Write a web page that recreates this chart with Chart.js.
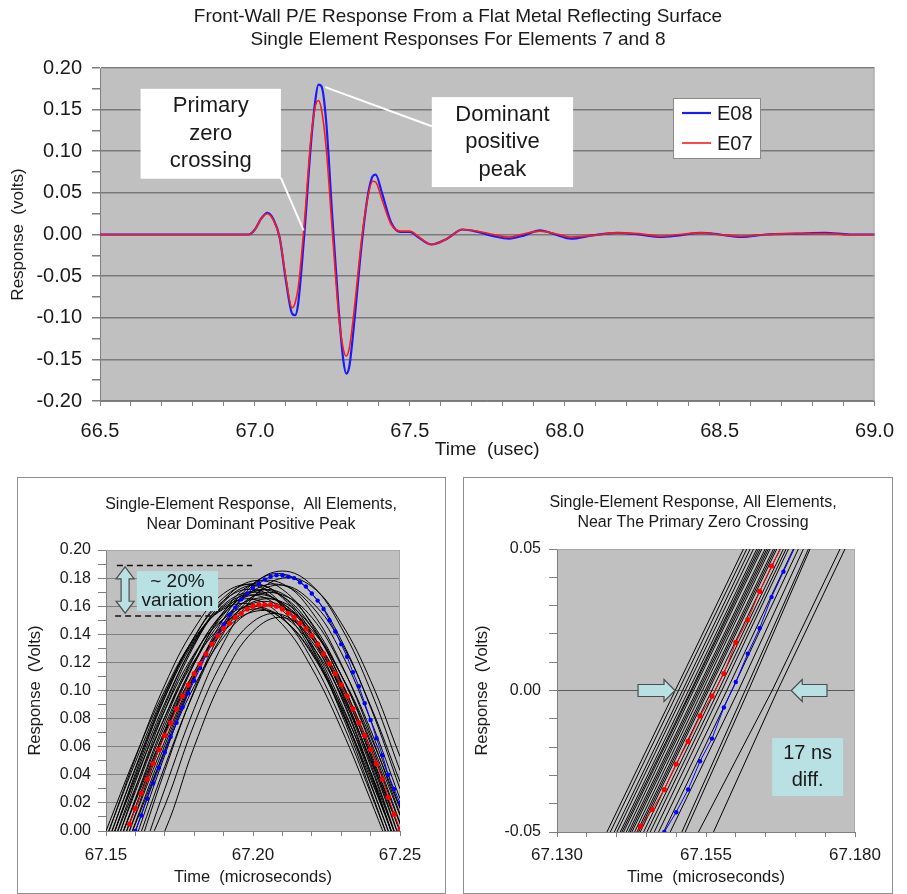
<!DOCTYPE html>
<html>
<head>
<meta charset="utf-8">
<title>Front-Wall P/E Response</title>
<script src="https://cdn.jsdelivr.net/npm/chart.js@4.4.1/dist/chart.umd.min.js"></script>
<style>
  html, body { margin: 0; padding: 0; background: #fff; }
  body { position: relative; width: 907px; height: 894px; overflow: hidden; }
  #chartTop { position: absolute; left: 0; top: 0; }
  .panel { position: absolute; top: 477px; height: 415px; border: 1px solid #8f8f8f; background: #fff; }
  #panelPeak { left: 17px; width: 427px; }
  #panelZero { left: 463px; width: 428px; }
  .panel canvas { position: absolute; left: 0; top: 0; }
</style>
</head>
<body>
<canvas id="chartTop" width="907" height="470"></canvas>
<div class="panel" id="panelPeak"><canvas id="chartPeak" width="427" height="415"></canvas></div>
<div class="panel" id="panelZero"><canvas id="chartZero" width="428" height="415"></canvas></div>
<script>
const FONT = '"Liberation Sans", Arial, sans-serif';
const INK = '#1a1a1a';
const TEAL = '#b9e0e3';

// ---- top: elements 7 and 8, whole window (usec, volts) ----
const topTime = [66.50, 66.60, 66.70, 66.80, 66.90, 66.98, 67.00, 67.02, 67.04, 67.06,
  67.08, 67.10, 67.12, 67.13, 67.14, 67.16, 67.18, 67.195, 67.205, 67.215,
  67.23, 67.25, 67.27, 67.285, 67.295, 67.305, 67.32, 67.345, 67.365, 67.38,
  67.39, 67.41, 67.44, 67.47, 67.50, 67.53, 67.57, 67.62, 67.67, 67.72,
  67.77, 67.82, 67.87, 67.92, 67.97, 68.02, 68.09, 68.17, 68.24, 68.31,
  68.37, 68.44, 68.50, 68.57, 68.65, 68.75, 68.84, 68.92, 69.00];
const e07 = [0.000, 0.000, 0.000, 0.000, 0.000, 0.000, 0.006, 0.019, 0.025, 0.017,
  -0.004, -0.052, -0.088, -0.082, -0.063, 0.016, 0.112, 0.154, 0.161, 0.150,
  0.104, 0.003, -0.095, -0.137, -0.146, -0.136, -0.092, -0.004, 0.046, 0.064,
  0.063, 0.042, 0.012, 0.004, 0.004, -0.003, -0.012, -0.005, 0.006, 0.004,
  0.000, -0.003, 0.001, 0.004, 0.001, -0.003, -0.001, 0.002, 0.001, -0.002,
  0.000, 0.002, 0.000, -0.002, 0.000, 0.001, 0.001, 0.000, 0.000];
const e08 = [0.000, 0.000, 0.000, 0.000, 0.000, 0.000, 0.006, 0.019, 0.026, 0.018,
  -0.004, -0.055, -0.095, -0.097, -0.082, 0.003, 0.105, 0.161, 0.180, 0.178,
  0.136, 0.020, -0.088, -0.150, -0.167, -0.158, -0.108, -0.010, 0.048, 0.070,
  0.072, 0.050, 0.014, 0.003, 0.003, -0.004, -0.012, -0.005, 0.006, 0.003,
  -0.002, -0.005, -0.001, 0.005, 0.000, -0.005, -0.001, 0.002, 0.000, -0.003,
  -0.001, 0.002, 0.000, -0.003, 0.000, 0.001, 0.002, 0.000, 0.000];
const topXLabels = ['66.5', '67.0', '67.5', '68.0', '68.5', '69.0'];
const topYLabels = ['-0.20', '-0.15', '-0.10', '-0.05', '0.00', '0.05', '0.10', '0.15', '0.20'];

// ---- bottom left: all elements near the dominant positive peak ----
const peakTime = [67.15, 67.16, 67.17, 67.18, 67.19, 67.20, 67.21, 67.22, 67.23, 67.24, 67.25];
const peakBlack = [
  [-0.016, 0.037, 0.086, 0.126, 0.151, 0.160, 0.151, 0.126, 0.086, 0.037, -0.016],
  [-0.017, 0.039, 0.091, 0.133, 0.161, 0.170, 0.161, 0.133, 0.091, 0.039, -0.017],
  [-0.005, 0.049, 0.098, 0.136, 0.159, 0.165, 0.152, 0.122, 0.079, 0.027, -0.027],
  [-0.006, 0.052, 0.104, 0.144, 0.169, 0.175, 0.161, 0.130, 0.084, 0.029, -0.029],
  [-0.021, 0.031, 0.081, 0.121, 0.147, 0.158, 0.151, 0.127, 0.089, 0.042, -0.011],
  [-0.028, 0.028, 0.081, 0.125, 0.155, 0.168, 0.162, 0.138, 0.100, 0.050, -0.006],
  [-0.034, 0.023, 0.078, 0.124, 0.156, 0.171, 0.167, 0.145, 0.107, 0.056, 0.000],
  [-0.038, 0.016, 0.069, 0.113, 0.146, 0.162, 0.160, 0.140, 0.105, 0.059, 0.005],
  [-0.047, 0.012, 0.069, 0.119, 0.156, 0.176, 0.176, 0.156, 0.119, 0.069, 0.012],
  [-0.050, 0.006, 0.061, 0.110, 0.146, 0.167, 0.168, 0.152, 0.118, 0.072, 0.017],
  [-0.031, 0.021, 0.071, 0.113, 0.142, 0.156, 0.153, 0.132, 0.097, 0.051, 0.000],
  [-0.023, 0.035, 0.089, 0.134, 0.163, 0.175, 0.167, 0.141, 0.099, 0.046, -0.012],
  [-0.011, 0.044, 0.095, 0.135, 0.160, 0.168, 0.157, 0.128, 0.086, 0.033, -0.022],
  [-0.058, 0.000, 0.058, 0.109, 0.148, 0.171, 0.175, 0.160, 0.127, 0.079, 0.023],
  [-0.066, -0.006, 0.054, 0.109, 0.151, 0.176, 0.183, 0.169, 0.136, 0.088, 0.030],
  [-0.078, -0.019, 0.043, 0.100, 0.145, 0.175, 0.185, 0.175, 0.145, 0.100, 0.043],
  [-0.087, -0.030, 0.030, 0.087, 0.134, 0.166, 0.180, 0.174, 0.148, 0.107, 0.053],
  [-0.044, 0.011, 0.064, 0.111, 0.145, 0.163, 0.163, 0.145, 0.111, 0.064, 0.011],
  [-0.030, 0.030, 0.086, 0.132, 0.164, 0.178, 0.172, 0.147, 0.106, 0.053, -0.006],
  [-0.040, 0.017, 0.072, 0.120, 0.154, 0.170, 0.169, 0.148, 0.111, 0.062, 0.006],
  [0.000, 0.053, 0.100, 0.137, 0.158, 0.161, 0.147, 0.116, 0.073, 0.022, -0.032],
  [-0.047, 0.005, 0.057, 0.103, 0.138, 0.157, 0.159, 0.143, 0.111, 0.067, 0.016],
  [-0.068, -0.012, 0.046, 0.099, 0.141, 0.167, 0.175, 0.163, 0.134, 0.089, 0.035],
  [-0.018, 0.041, 0.095, 0.138, 0.166, 0.176, 0.166, 0.138, 0.095, 0.041, -0.018],
  [-0.033, 0.022, 0.075, 0.119, 0.151, 0.165, 0.162, 0.140, 0.103, 0.054, 0.000],
  [-0.012, 0.045, 0.097, 0.138, 0.164, 0.172, 0.160, 0.131, 0.088, 0.034, -0.023],
  [-0.060, -0.027, 0.018, 0.076, 0.122, 0.149, 0.154, 0.135, 0.096, 0.042, -0.018],
  [-0.070, -0.038, 0.000, 0.060, 0.110, 0.142, 0.152, 0.137, 0.101, 0.048, -0.012]
];
const peakE07Time = [67.158, 67.160, 67.162, 67.164, 67.166, 67.168, 67.170, 67.172, 67.174, 67.176,
  67.178, 67.180, 67.182, 67.184, 67.186, 67.188, 67.190, 67.192, 67.194, 67.196,
  67.198, 67.200, 67.202, 67.204, 67.206, 67.208, 67.210, 67.212, 67.214, 67.216,
  67.218, 67.220, 67.222, 67.224, 67.226, 67.228, 67.230, 67.232, 67.234, 67.236,
  67.238, 67.240, 67.242, 67.244, 67.246, 67.248, 67.250];
const peakE07 = [0.005, 0.016, 0.027, 0.037, 0.048, 0.058, 0.068, 0.077, 0.087, 0.096,
  0.104, 0.112, 0.119, 0.126, 0.133, 0.139, 0.144, 0.148, 0.152, 0.155,
  0.158, 0.160, 0.161, 0.161, 0.161, 0.160, 0.158, 0.155, 0.152, 0.148,
  0.144, 0.139, 0.133, 0.126, 0.119, 0.112, 0.104, 0.096, 0.087, 0.077,
  0.068, 0.058, 0.048, 0.037, 0.024, 0.012, 0.001];
const peakE08Time = [67.160, 67.162, 67.164, 67.166, 67.168, 67.170, 67.172, 67.174, 67.176, 67.178,
  67.180, 67.182, 67.184, 67.186, 67.188, 67.190, 67.192, 67.194, 67.196, 67.198,
  67.200, 67.202, 67.204, 67.206, 67.208, 67.210, 67.212, 67.214, 67.216, 67.218,
  67.220, 67.222, 67.224, 67.226, 67.228, 67.230, 67.232, 67.234, 67.236, 67.238,
  67.240, 67.242, 67.244, 67.246, 67.248, 67.250];
const peakE08 = [0.000, 0.011, 0.023, 0.034, 0.045, 0.056, 0.067, 0.077, 0.088, 0.098,
  0.107, 0.116, 0.125, 0.133, 0.140, 0.147, 0.154, 0.159, 0.165, 0.169,
  0.173, 0.176, 0.179, 0.181, 0.182, 0.182, 0.181, 0.180, 0.177, 0.174,
  0.169, 0.164, 0.158, 0.150, 0.142, 0.133, 0.124, 0.113, 0.103, 0.091,
  0.079, 0.066, 0.054, 0.040, 0.030, 0.020];
const peakXLabels = ['67.15', '67.20', '67.25'];
const peakYLabels = ['0.00', '0.02', '0.04', '0.06', '0.08', '0.10', '0.12', '0.14', '0.16', '0.18', '0.20'];

// ---- bottom right: all elements near the primary zero crossing ----
// each black trace is given by the times where it crosses these voltages
const zcLevels = [-0.05, 0, 0.05];
const zcBlack = [
  [67.13838, 67.14983, 67.16128], [67.13894, 67.15039, 67.16184], [67.13961, 67.15106, 67.16240],
  [67.14006, 67.15151, 67.16296], [67.14061, 67.15207, 67.16352], [67.14089, 67.15246, 67.16380],
  [67.14117, 67.15263, 67.16408], [67.14162, 67.15291, 67.16436], [67.14201, 67.15346, 67.16492],
  [67.14229, 67.15374, 67.16520], [67.14257, 67.15402, 67.16547], [67.14302, 67.15441, 67.16575],
  [67.14341, 67.15486, 67.16631], [67.14369, 67.15514, 67.16659], [67.14397, 67.15542, 67.16687],
  [67.14453, 67.15598, 67.16743], [67.14508, 67.15654, 67.16799], [67.14564, 67.15709, 67.16844],
  [67.14631, 67.15765, 67.16883], [67.14704, 67.15849, 67.16966], [67.14788, 67.15933, 67.17050],
  [67.14899, 67.16045, 67.17134], [67.15095, 67.16156, 67.17218], [67.15151, 67.16212, 67.17246],
  [67.15374, 67.16610, 67.17749], [67.15626, 67.16700, 67.17832]
];
const zcE07Time = [67.142, 67.144, 67.146, 67.148, 67.150, 67.152, 67.154, 67.156, 67.158, 67.160, 67.162, 67.164, 67.166, 67.168];
const zcE07 = [-0.055, -0.048, -0.042, -0.035, -0.026, -0.018, -0.009, -0.002, 0.006, 0.017, 0.025, 0.035, 0.044, 0.052];
const zcE08Time = [67.148, 67.150, 67.152, 67.154, 67.156, 67.158, 67.160, 67.162, 67.164, 67.166, 67.168, 67.170];
const zcE08 = [-0.050, -0.043, -0.035, -0.025, -0.017, -0.006, 0.003, 0.013, 0.022, 0.033, 0.042, 0.051];
const zcXLabels = ['67.130', '67.155', '67.180'];
const zcYLabels = ['-0.05', '0.00', '0.05'];

// ---- annotations (data units) ----
const topCallouts = [
  { lines: ['Primary', 'zero', 'crossing'], x0: 66.631, x1: 67.084, y0: 0.175, y1: 0.067, from: [67.084, 0.068], to: [67.157, 0.005] },
  { lines: ['Dominant', 'positive', 'peak'], x0: 67.571, x1: 68.027, y0: 0.165, y1: 0.057, from: [67.571, 0.130], to: [67.227, 0.177] }
];
const spreadGuides = [{ x0: 67.1537, x1: 67.1997, y: 0.189 }, { x0: 67.1531, x1: 67.1867, y: 0.153 }];
const spreadArrow = { x: 67.1565, y0: 0.188, y1: 0.155 };
const spreadBox = { x0: 67.1605, x1: 67.1881, y0: 0.185, y1: 0.1566, lines: ['~ 20%', 'variation'] };
const zcArrows = [{ from: 67.1436, to: 67.1498 }, { from: 67.1753, to: 67.1693 }];
const zcBox = { x0: 67.1661, x1: 67.1780, y0: -0.0168, y1: -0.0373, lines: ['17 ns', 'diff.'] };

const pts = (xs, ys) => xs.map((x, i) => ({ x: x, y: ys[i] }));
const fmt = (v, d) => (Math.abs(v) < 1e-9 ? 0 : v).toFixed(d);

function linearAxis(o) {
  return {
    type: 'linear',
    min: o.min,
    max: o.max,
    afterFit: s => {
      if (o.width) s.width = o.width;
      if (o.height) s.height = o.height;
    },
    border: { display: true, color: '#7f7f7f', width: 1 },
    grid: {
      drawOnChartArea: !!o.gridAt,
      color: ctx => (o.gridAt && ctx.tick && o.gridAt.includes(fmt(ctx.tick.value, o.digits))) ? o.gridColor : 'rgba(0,0,0,0)',
      lineWidth: o.gridWidth || 1,
      tickColor: '#7f7f7f',
      tickLength: o.tickLength
    },
    ticks: {
      stepSize: o.step,
      maxTicksLimit: 1000,
      autoSkip: false,
      maxRotation: 0,
      padding: o.pad,
      color: INK,
      font: { family: FONT, size: o.fontSize },
      callback: v => {
        const s = fmt(v, o.digits);
        return o.labels.includes(s) ? s : '';
      }
    },
    title: {
      display: true,
      text: o.title,
      color: INK,
      font: { family: FONT, size: o.titleSize },
      padding: o.titlePad
    }
  };
}

// grey plot area, light frame edges, chart title and notes
function decor(o) {
  return {
    id: 'decor',
    beforeDraw(chart) {
      const { ctx, chartArea: a } = chart;
      ctx.save();
      ctx.fillStyle = '#c0c0c0';
      ctx.fillRect(a.left, a.top, a.right - a.left, a.bottom - a.top);
      ctx.restore();
    },
    beforeDatasetsDraw(chart) {
      const { ctx, chartArea: a } = chart;
      ctx.save();
      ctx.strokeStyle = '#a9a9a9';
      ctx.lineWidth = 1;
      ctx.beginPath();
      ctx.moveTo(a.left, a.top + 0.5);
      ctx.lineTo(a.right - 0.5, a.top + 0.5);
      ctx.lineTo(a.right - 0.5, a.bottom);
      ctx.stroke();
      ctx.restore();
    },
    afterDatasetsDraw(chart) {
      if (o.notes) {
        chart.ctx.save();
        o.notes(chart);
        chart.ctx.restore();
      }
    },
    afterDraw(chart) {
      const ctx = chart.ctx;
      ctx.save();
      ctx.fillStyle = INK;
      ctx.font = o.titleSize + 'px ' + FONT;
      ctx.textAlign = 'center';
      ctx.textBaseline = 'middle';
      o.title.forEach((t, i) => ctx.fillText(t, o.titleX, o.titleY + i * o.titleGap));
      ctx.restore();
    }
  };
}

function boxText(chart, b, size, gap, fill) {
  const ctx = chart.ctx;
  const X = v => chart.scales.x.getPixelForValue(v);
  const Y = v => chart.scales.y.getPixelForValue(v);
  const l = X(b.x0), r = X(b.x1), t = Y(b.y0), bt = Y(b.y1);
  ctx.fillStyle = fill;
  ctx.fillRect(l, t, r - l, bt - t);
  ctx.fillStyle = INK;
  ctx.font = size + 'px ' + FONT;
  ctx.textAlign = 'center';
  ctx.textBaseline = 'middle';
  const mid = (t + bt) / 2;
  b.lines.forEach((s, i) => ctx.fillText(s, (l + r) / 2, mid + (i - (b.lines.length - 1) / 2) * gap));
}

function shape(ctx, p) {
  ctx.beginPath();
  p.forEach((q, i) => (i ? ctx.lineTo(q[0], q[1]) : ctx.moveTo(q[0], q[1])));
  ctx.closePath();
  ctx.fillStyle = TEAL;
  ctx.fill();
  ctx.strokeStyle = '#4d4d4d';
  ctx.lineWidth = 1.2;
  ctx.stroke();
}

function topNotes(chart) {
  const ctx = chart.ctx;
  const X = v => chart.scales.x.getPixelForValue(v);
  const Y = v => chart.scales.y.getPixelForValue(v);
  topCallouts.forEach(c => {
    ctx.strokeStyle = '#fff';
    ctx.lineWidth = 2;
    ctx.beginPath();
    ctx.moveTo(X(c.from[0]), Y(c.from[1]));
    ctx.lineTo(X(c.to[0]), Y(c.to[1]));
    ctx.stroke();
    boxText(chart, c, 22, 27.5, '#fff');
  });
  // legend box inside the plot
  const a = chart.chartArea;
  const lx = a.left + 573, ly = a.top + 30;
  ctx.fillStyle = '#fff';
  ctx.fillRect(lx, ly, 87, 60);
  ctx.strokeStyle = '#8a8a8a';
  ctx.lineWidth = 1;
  ctx.strokeRect(lx + 0.5, ly + 0.5, 87, 60);
  const items = [chart.data.datasets[1], chart.data.datasets[0]];
  ctx.font = '20px ' + FONT;
  ctx.textAlign = 'left';
  ctx.textBaseline = 'middle';
  items.forEach((d, i) => {
    const y = ly + 15 + i * 30;
    ctx.strokeStyle = d.borderColor;
    ctx.lineWidth = d.borderWidth;
    ctx.beginPath();
    ctx.moveTo(lx + 9, y);
    ctx.lineTo(lx + 38, y);
    ctx.stroke();
    ctx.fillStyle = INK;
    ctx.fillText(d.label, lx + 44, y + 1);
  });
}

function peakNotes(chart) {
  const ctx = chart.ctx;
  const X = v => chart.scales.x.getPixelForValue(v);
  const Y = v => chart.scales.y.getPixelForValue(v);
  ctx.strokeStyle = '#111';
  ctx.lineWidth = 1.5;
  ctx.setLineDash([6, 4]);
  spreadGuides.forEach(g => {
    ctx.beginPath();
    ctx.moveTo(X(g.x0), Y(g.y));
    ctx.lineTo(X(g.x1), Y(g.y));
    ctx.stroke();
  });
  ctx.setLineDash([]);
  const cx = X(spreadArrow.x), ty = Y(spreadArrow.y0), by = Y(spreadArrow.y1);
  const hl = 12, hw = 9, sw = 4;
  shape(ctx, [[cx, ty], [cx + hw, ty + hl], [cx + sw, ty + hl], [cx + sw, by - hl], [cx + hw, by - hl], [cx, by],
    [cx - hw, by - hl], [cx - sw, by - hl], [cx - sw, ty + hl], [cx - hw, ty + hl]]);
  boxText(chart, spreadBox, 19, 19, TEAL);
}

function zcNotes(chart) {
  const ctx = chart.ctx;
  const X = v => chart.scales.x.getPixelForValue(v);
  const y = chart.scales.y.getPixelForValue(0);
  zcArrows.forEach(a => {
    const x1 = X(a.from), x2 = X(a.to), dir = Math.sign(x2 - x1);
    const hl = 11, hh = 11, sh = 6;
    shape(ctx, [[x1, y - sh], [x2 - dir * hl, y - sh], [x2 - dir * hl, y - hh], [x2, y],
      [x2 - dir * hl, y + hh], [x2 - dir * hl, y + sh], [x1, y + sh]]);
  });
  boxText(chart, zcBox, 20, 27, TEAL);
}

const common = {
  responsive: false,
  animation: false,
  events: [],
  plugins: { legend: { display: false }, tooltip: { enabled: false } },
  elements: { line: { capBezierPoints: false } }
};

new Chart(document.getElementById('chartTop'), {
  type: 'line',
  data: {
    datasets: [
      { label: 'E07', data: pts(topTime, e07), borderColor: '#ff1a1a', borderWidth: 1.6, pointRadius: 0, cubicInterpolationMode: 'monotone', order: 0 },
      { label: 'E08', data: pts(topTime, e08), borderColor: '#1a1aff', borderWidth: 2.2, pointRadius: 0, cubicInterpolationMode: 'monotone', order: 1 }
    ]
  },
  options: Object.assign({}, common, {
    layout: { padding: { top: 68, right: 23, left: 0, bottom: 0 } },
    scales: {
      x: linearAxis({ min: 66.5, max: 69, step: 0.1, digits: 1, labels: topXLabels, fontSize: 20, tickLength: 5, pad: 13, height: 69,
        title: 'Time  (usec)', titleSize: 19, titlePad: { top: 0, bottom: 9 } }),
      y: linearAxis({ min: -0.2, max: 0.2, step: 0.025, digits: 2, labels: topYLabels, gridAt: topYLabels, gridColor: '#7a7a7a', gridWidth: 1.5,
        fontSize: 20, tickLength: 8, pad: 10, width: 100, title: 'Response  (volts)', titleSize: 17, titlePad: { top: 8, bottom: 0 } })
    }
  }),
  plugins: [decor({
    title: ['Front-Wall P/E Response From a Flat Metal Reflecting Surface', 'Single Element Responses For Elements 7 and 8'],
    titleX: 458, titleY: 17, titleGap: 23, titleSize: 19, notes: topNotes
  })]
});

new Chart(document.getElementById('chartPeak'), {
  type: 'line',
  data: {
    datasets: peakBlack.map((v, i) => ({
      label: 'Element ' + (i + 1), data: pts(peakTime, v), borderColor: '#000', borderWidth: 1, pointRadius: 0, tension: 0.4, order: 2
    })).concat([
      { label: 'E07', data: pts(peakE07Time, peakE07), borderColor: '#ff0000', borderWidth: 1, pointRadius: 2.6, pointBorderWidth: 0, pointBackgroundColor: '#ff0000', order: 0 },
      { label: 'E08', data: pts(peakE08Time, peakE08), borderColor: '#0000ff', borderWidth: 1, pointRadius: 2.2, pointBorderWidth: 0, pointBackgroundColor: '#0000ff', order: 1 }
    ])
  },
  options: Object.assign({}, common, {
    layout: { padding: { top: 72, right: 45, left: 0, bottom: 0 } },
    scales: {
      x: linearAxis({ min: 67.15, max: 67.25, step: 0.01, digits: 2, labels: peakXLabels, fontSize: 17, tickLength: 5, pad: 9, height: 62,
        title: 'Time  (microseconds)', titleSize: 16.5, titlePad: { top: 0, bottom: 6 } }),
      y: linearAxis({ min: 0, max: 0.2, step: 0.01, digits: 2, labels: peakYLabels, gridAt: peakYLabels, gridColor: '#7f7f7f', gridWidth: 1,
        fontSize: 16, tickLength: 8, pad: 7, width: 88, title: 'Response  (Volts)', titleSize: 16.5, titlePad: { top: 8, bottom: 0 } })
    }
  }),
  plugins: [decor({
    title: ['Single-Element Response,  All Elements,', 'Near Dominant Positive Peak'],
    titleX: 233, titleY: 27, titleGap: 20, titleSize: 16, notes: peakNotes
  })]
});

new Chart(document.getElementById('chartZero'), {
  type: 'line',
  data: {
    datasets: zcBlack.map((t, i) => ({
      label: 'Element ' + (i + 1), data: pts(t, zcLevels), borderColor: '#000', borderWidth: 1, pointRadius: 0, order: 2
    })).concat([
      { label: 'E07', data: pts(zcE07Time, zcE07), borderColor: '#ff0000', borderWidth: 1, pointRadius: 2.6, pointBorderWidth: 0, pointBackgroundColor: '#ff0000', order: 0 },
      { label: 'E08', data: pts(zcE08Time, zcE08), borderColor: '#0000ff', borderWidth: 1, pointRadius: 2.2, pointBorderWidth: 0, pointBackgroundColor: '#0000ff', order: 1 }
    ])
  },
  options: Object.assign({}, common, {
    layout: { padding: { top: 71, right: 37, left: 0, bottom: 0 } },
    scales: {
      x: linearAxis({ min: 67.13, max: 67.18, step: 0.005, digits: 3, labels: zcXLabels, fontSize: 17, tickLength: 5, pad: 8, height: 61,
        title: 'Time  (microseconds)', titleSize: 16.5, titlePad: { top: 0, bottom: 6 } }),
      y: linearAxis({ min: -0.05, max: 0.05, step: 0.01, digits: 2, labels: zcYLabels, gridAt: ['0.00'], gridColor: '#5a5a5a', gridWidth: 1,
        fontSize: 16, tickLength: 8, pad: 8, width: 93, title: 'Response  (Volts)', titleSize: 16.5, titlePad: { top: 9, bottom: 0 } })
    }
  }),
  plugins: [decor({
    title: ['Single-Element Response, All Elements,', 'Near The Primary Zero Crossing'],
    titleX: 229, titleY: 25, titleGap: 20, titleSize: 16, notes: zcNotes
  })]
});
</script>
</body>
</html>
